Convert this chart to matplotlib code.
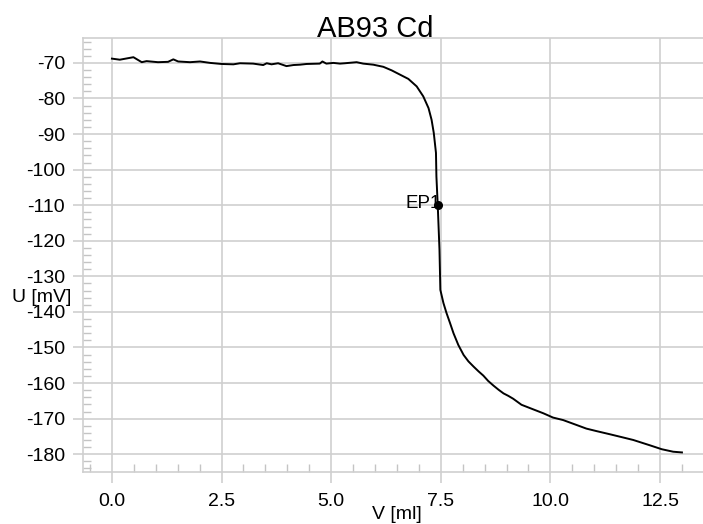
import matplotlib
matplotlib.use("Agg")
import matplotlib.pyplot as plt
from matplotlib.ticker import MultipleLocator

plt.rcParams["font.family"] = ["Liberation Sans", "DejaVu Sans"]
plt.rcParams["axes.unicode_minus"] = False

# titration curve
v_ml = [0.00, 0.18, 0.49, 0.68, 0.79, 1.05, 1.28, 1.40, 1.51, 1.78, 2.01, 2.24,
        2.50, 2.77, 2.92, 3.22, 3.45, 3.53, 3.64, 3.79, 3.98, 4.14, 4.29, 4.44,
        4.74, 4.80, 4.89, 5.05, 5.20, 5.31, 5.58, 5.73, 5.96, 6.19, 6.38, 6.57,
        6.76, 6.95, 7.10, 7.22, 7.29, 7.34, 7.39, 7.40, 7.43, 7.47, 7.49, 7.56,
        7.63, 7.71, 7.79, 7.90, 8.02, 8.13, 8.25, 8.36, 8.47, 8.58, 8.70, 8.82,
        8.93, 9.04, 9.15, 9.34, 9.61, 9.84, 10.06, 10.29, 10.60, 10.82, 11.05,
        11.36, 11.66, 11.89, 12.27, 12.54, 12.80, 13.00]
u_mv = [-68.8, -69.1, -68.4, -69.8, -69.5, -69.8, -69.7, -69.0, -69.6, -69.8,
        -69.6, -70.0, -70.3, -70.4, -70.1, -70.2, -70.6, -70.1, -70.4, -70.1,
        -70.9, -70.6, -70.5, -70.3, -70.2, -69.6, -70.2, -70.0, -70.2, -70.1,
        -69.8, -70.2, -70.5, -71.1, -72.1, -73.3, -74.5, -76.6, -79.4, -82.7,
        -86.0, -89.7, -95.3, -101.9, -109.9, -122.5, -133.8, -137.5, -140.3,
        -143.1, -146.0, -149.3, -152.1, -153.9, -155.4, -156.7, -157.9, -159.4,
        -160.7, -161.9, -162.9, -163.6, -164.4, -166.1, -167.4, -168.5, -169.7,
        -170.4, -171.8, -172.8, -173.5, -174.4, -175.3, -176.0, -177.5, -178.6,
        -179.3, -179.5]

ep_label = "EP1"
ep_v = 7.44
ep_u = -110.0

x_ticks = [0.0, 2.5, 5.0, 7.5, 10.0, 12.5]
y_ticks = list(range(-70, -190, -10))

W, H = 703, 524
fig = plt.figure(figsize=(W / 100, H / 100), dpi=100)
ax = fig.add_axes([83 / W, 1 - 472 / H, (W - 83) / W, (472 - 38) / H])

grid_c = "#cfcfcf"
ax.plot(v_ml, u_mv, color="black", lw=1.4, zorder=3)
ax.plot([ep_v], [ep_u], "o", color="black", ms=5.5, zorder=4)
ax.annotate(ep_label, (ep_v, ep_u), xytext=(2, -2), textcoords="offset points",
            ha="right", va="baseline", fontsize=13.5)

ax.set_xlim(-0.66, 13.48)
ax.set_ylim(-185, -63)
ax.set_xticks(x_ticks)
ax.set_xticklabels([f"{t:.1f}" for t in x_ticks])
ax.set_yticks(y_ticks)
ax.xaxis.set_minor_locator(MultipleLocator(0.5))
ax.yaxis.set_minor_locator(MultipleLocator(2))

ax.grid(True, which="major", color=grid_c, lw=1.2)
ax.tick_params(which="major", direction="out", length=7, width=1.2,
               color=grid_c, labelsize=14, pad=6)
ax.tick_params(axis="x", which="major", length=8, pad=7)
ax.tick_params(which="minor", direction="in", length=6, width=1.0, color="#c4c4c4")

for side in ["left", "bottom", "top"]:
    ax.spines[side].set_color(grid_c)
    ax.spines[side].set_linewidth(1.2)
ax.spines["right"].set_visible(False)

fig.text(375 / W, 1 - 29 / H, "AB93 Cd", ha="center", va="center", fontsize=21)
fig.text(42 / W, 1 - 298 / H, "U [mV]", ha="center", va="center", fontsize=14)
fig.text(397 / W, 1 / H, "V [ml]", ha="center", va="bottom", fontsize=14)

fig.savefig("out.png", dpi=100)
